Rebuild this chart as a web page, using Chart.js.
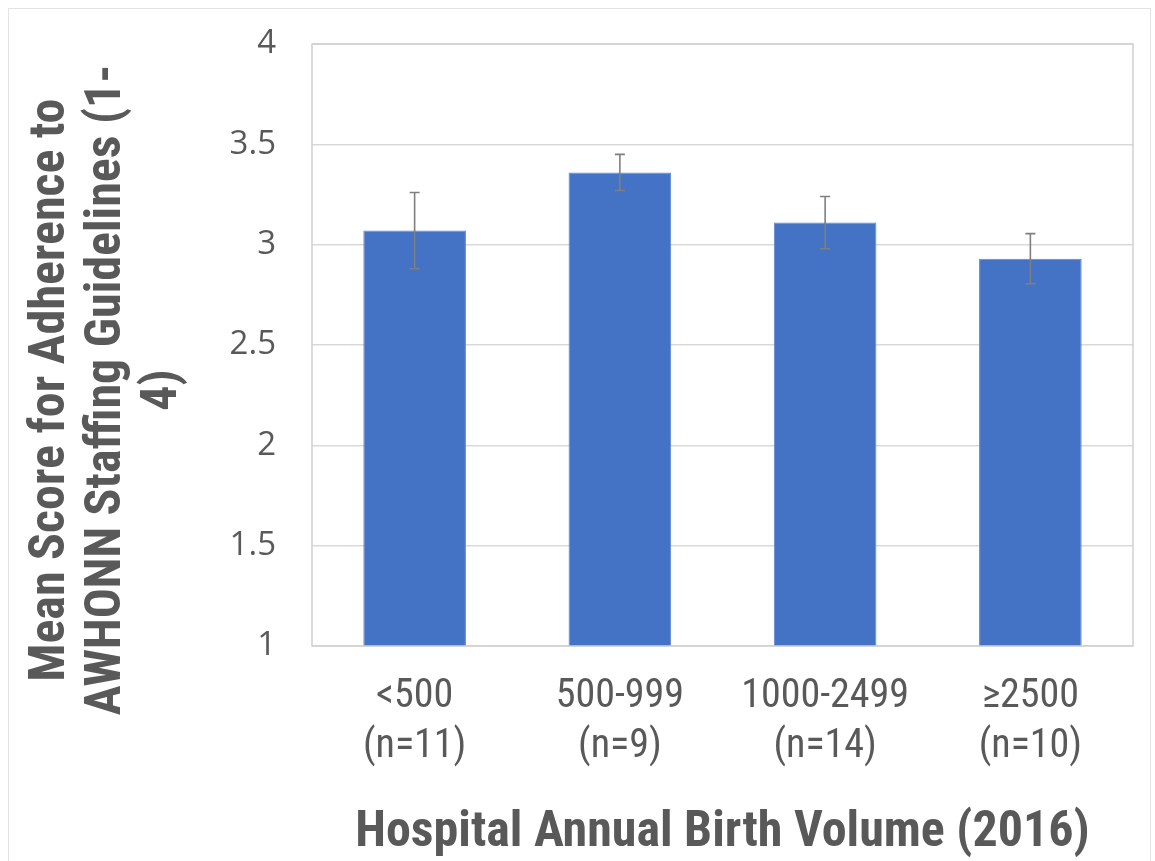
<!DOCTYPE html>
<html>
<head>
<style>
  body { margin: 0; background: #fff; }
  #frame { position: absolute; left: 8px; top: 8px; width: 1143px; height: 870px; border: 1px solid #e3e3e3; box-sizing: border-box; }
  #wrap { position: absolute; left: 0; top: 0; width: 1155px; height: 861px; }
</style>
</head>
<body>
<div id="frame"></div>
<div id="wrap"><canvas id="canvas"></canvas></div>
<script src="https://cdn.jsdelivr.net/npm/chart.js"></script>
<script>
  const categories = [["<500", "(n=11)"], ["500-999", "(n=9)"], ["1000-2499", "(n=14)"], ["\u22652500", "(n=10)"]];
  const means = [3.07, 3.36, 3.11, 2.93];
  const errors = [0.19, 0.09, 0.13, 0.125];
  const yTicks = [1, 1.5, 2, 2.5, 3, 3.5, 4];
  const yTitle = ["Mean Score for Adherence to", "AWHONN Staffing Guidelines (1-", "4)"];
  const xTitle = "Hospital Annual Birth Volume (2016)";

  const textGray = "#595959";
  const narrow = "'Liberation Sans Narrow', 'Roboto Condensed', 'Open Sans', sans-serif";

  // plot frame + error bars + rotated y title
  const extras = {
    id: 'extras',
    afterDatasetsDraw(chart) {
      const ctx = chart.ctx;
      const area = chart.chartArea;
      const y = chart.scales.y;
      const meta = chart.getDatasetMeta(0);
      ctx.save();
      ctx.strokeStyle = "#d0d0d0";
      ctx.lineWidth = 1.5;
      ctx.strokeRect(area.left, area.top, area.right - area.left, area.bottom - area.top);

      ctx.strokeStyle = "#7f7f7f";
      ctx.lineWidth = 1.6;
      meta.data.forEach((bar, i) => {
        const top = y.getPixelForValue(means[i] + errors[i]);
        const bot = y.getPixelForValue(means[i] - errors[i]);
        ctx.beginPath();
        ctx.moveTo(bar.x, top); ctx.lineTo(bar.x, bot);
        ctx.moveTo(bar.x - 5, top); ctx.lineTo(bar.x + 5, top);
        ctx.moveTo(bar.x - 5, bot); ctx.lineTo(bar.x + 5, bot);
        ctx.stroke();
      });

      ctx.fillStyle = textGray;
      ctx.font = "bold 50px " + narrow;
      ctx.textAlign = "center";
      ctx.textBaseline = "middle";
      ctx.translate(0, 390);
      ctx.rotate(-Math.PI / 2);
      yTitle.forEach((line, i) => {
        ctx.fillText(line, 0, 51 + i * 56);
      });
      ctx.restore();
    }
  };

  new Chart(document.getElementById('canvas'), {
    type: 'bar',
    data: {
      labels: categories,
      datasets: [{
        data: means,
        backgroundColor: "#4472C4",
        borderColor: "#5b86d0",
        borderWidth: 1,
        barPercentage: 0.5,
        categoryPercentage: 1.0
      }]
    },
    options: {
      responsive: true,
      maintainAspectRatio: false,
      animation: false,
      layout: { padding: { left: 10, top: 44, right: 22, bottom: 0 } },
      plugins: { legend: { display: false }, tooltip: { enabled: false } },
      scales: {
        x: {
          afterFit: (s) => { s.height = 215; },
          grid: { display: false, drawTicks: false },
          border: { display: false },
          ticks: {
            color: textGray,
            font: { family: narrow, size: 40, lineHeight: 1.25 },
            padding: 26,
            maxRotation: 0,
            autoSkip: false
          },
          title: {
            display: true,
            text: xTitle,
            color: textGray,
            font: { family: narrow, size: 50, weight: 'bold', lineHeight: 1.1 },
            padding: { top: 0, bottom: 0 }
          }
        },
        y: {
          min: 1,
          max: 4,
          afterFit: (s) => { s.width = 302; s.paddingTop = 0; },
          afterBuildTicks: (s) => { s.ticks = yTicks.map(v => ({ value: v })); },
          grid: { color: "#d9d9d9", lineWidth: 1.5, drawTicks: false },
          border: { display: false },
          ticks: {
            color: textGray,
            font: { family: "'Open Sans', 'Noto Sans', sans-serif", size: 33 },
            padding: 36,
            callback: (v) => String(v)
          }
        }
      }
    },
    plugins: [extras]
  });
</script>
</body>
</html>
